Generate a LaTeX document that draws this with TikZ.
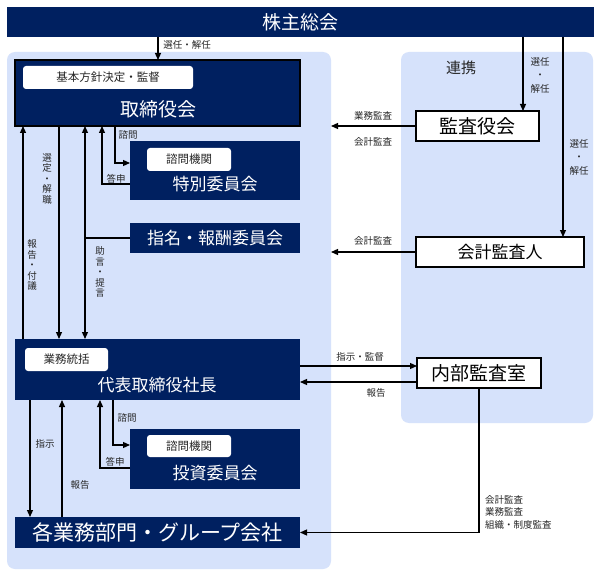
\documentclass[tikz,border=0pt]{standalone}
\usepackage{fontspec}
\setmainfont{Noto Sans CJK JP}
\usetikzlibrary{arrows.meta}
\definecolor{navy}{RGB}{0,32,96}
\definecolor{panelblue}{RGB}{214,226,251}
\tikzset{
  nw/.style={anchor=north west, outer sep=0pt},
  navybox/.style={nw, fill=navy, inner sep=0pt, text=white},
  whitebox/.style={nw, fill=white, draw=black, line width=1.2pt, inner sep=0pt},
  tag/.style={nw, fill=white, rounded corners=3pt, inner sep=0pt, text=black!85, font=\fontsize{11.5}{13}\selectfont},
  panel/.style={nw, fill=panelblue, rounded corners=8pt, inner sep=0pt},
  arr/.style={-{Triangle[length=7pt,width=6pt]}, line width=1.2pt},
  darr/.style={{Triangle[length=7pt,width=6pt]}-{Triangle[length=7pt,width=6pt]}, line width=1.2pt},
  plain/.style={line width=1.2pt},
  lbl/.style={font=\fontsize{9.5}{10.5}\selectfont, text=black!85, inner sep=0pt},
  vlbl/.style={lbl, align=center},
  big/.style={font=\fontsize{19}{22}\selectfont},
  mid/.style={font=\fontsize{17}{20}\selectfont},
  sz/.style 2 args={minimum width=#1pt, minimum height=#2pt},
}
\begin{document}
\begin{tikzpicture}[x=1pt,y=-1pt]
\useasboundingbox (0,0) rectangle (600,575);
\fill[white] (0,0) rectangle (600,575);

% panels
\node[panel, sz={324}{517}] (lp) at (7,52) {};
\node[panel, sz={192}{371}] (rp) at (401,52) {};
\node[font=\fontsize{15}{18}\selectfont, text=black!85] (renkei) at (461,68) {連携};

% top bar
\node[navybox, big, sz={587}{30}] (sh) at (7,7) {株主総会};

% board
\node[navybox, draw=black, line width=1.5pt, sz={285}{66}] (tb) at (15,60) {};
\node[tag, sz={170}{23}] (tbtag) at (23,66) {基本方針決定・監督};
\node[text=white, big] (tbtext) at (158,109) {取締役会};

% special committee
\node[navybox, sz={170}{59}] (tk) at (130,141) {};
\node[tag, sz={84}{23}] (tktag) at (147,148) {諮問機関};
\node[text=white, mid] (tktext) at (215,184) {特別委員会};

% nomination committee
\node[navybox, mid, sz={170}{30}] (sm) at (130,223) {指名・報酬委員会};

% president
\node[navybox, sz={285}{61}] (dc) at (15,339) {};
\node[tag, sz={83}{23}] (dctag) at (25,348) {業務統括};
\node[text=white, mid] (dctext) at (157,385) {代表取締役社長};

% investment committee
\node[navybox, sz={170}{60}] (ti) at (130,429) {};
\node[tag, sz={84}{22}] (titag) at (147,435) {諮問機関};
\node[text=white, mid] (titext) at (215,473) {投資委員会};

% business units
\node[navybox, font=\fontsize{21}{24}\selectfont, sz={285}{31}] (bu) at (15,517) {各業務部門・グループ会社};

% right boxes
\node[whitebox, big, sz={123}{30}] (ka) at (416,111) {監査役会};
\node[whitebox, mid, sz={168}{30}] (kk) at (416,237) {会計監査人};
\node[whitebox, big, sz={124}{30}] (na) at (417,358) {内部監査室};

% connectors from shareholders
\draw[arr] (sh.south -| 158,0) -- (tb.north -| 158,0);
\node[lbl] (l1) at (187,45) {選任・解任};
\draw[arr] (sh.south -| 523,0) -- (ka.north -| 523,0);
\node[vlbl] (l2) at (540,75) {選任\\[3pt]・\\[3pt]解任};
\draw[arr] (sh.south -| 563,0) -- (kk.north -| 563,0);
\node[vlbl] (l3) at (579,157) {選任\\[3pt]・\\[3pt]解任};

% audits to left panel
\draw[arr] (ka.west) -- (lp.east |- ka.west);
\node[lbl] (l4) at (373,116) {業務監査};
\node[lbl] (l5) at (373,142) {会計監査};
\draw[arr] (kk.west) -- (lp.east |- kk.west);
\node[lbl] (l6) at (373,241) {会計監査};

% board <-> president
\draw[arr] (dc.north -| 23,0) -- (tb.south -| 23,0);
\node[vlbl] (l7) at (32,265) {報\\告\\・\\付\\議};
\draw[arr] (tb.south -| 59,0) -- (dc.north -| 59,0);
\node[vlbl] (l8) at (47,179) {選\\定\\・\\解\\職};
\draw[darr] (tb.south -| 85,0) -- (dc.north -| 85,0);
\draw[plain] (sm.west) -- (sm.west -| 85,0);
\node[vlbl] (l9) at (100,272) {助\\言\\・\\提\\言};

% board <-> special committee
\draw[arr] (tb.south -| 115,0) |- (tk.west |- 0,163);
\node[lbl] (l10) at (128,135) {諮問};
\draw[arr] (tk.west |- 0,184) -| (tb.south -| 102,0);
\node[lbl] (l11) at (116,179) {答申};

% president <-> investment committee
\draw[arr] (dc.south -| 113,0) |- (ti.west |- 0,445);
\node[lbl] (l12) at (127,418) {諮問};
\draw[arr] (ti.west |- 0,468) -| (dc.south -| 100,0);
\node[lbl] (l13) at (115,462) {答申};

% president <-> business units
\draw[arr] (dc.south -| 30,0) -- (bu.north -| 30,0);
\node[lbl] (l14) at (45,444) {指示};
\draw[arr] (bu.north -| 62,0) -- (dc.south -| 62,0);
\node[lbl] (l15) at (80,485) {報告};

% president <-> internal audit
\draw[arr] (dc.east |- 0,366) -- (na.west |- 0,366);
\node[lbl] (l16) at (360,357) {指示・監督};
\draw[arr] (na.west |- 0,382) -- (dc.east |- 0,382);
\node[lbl] (l17) at (376,393) {報告};

% internal audit -> business units
\draw[arr] (na.south) |- (bu.east);
\node[lbl, anchor=west, align=left] (l18) at (485,512) {会計監査\\[2pt]業務監査\\[2pt]組織・制度監査};
\end{tikzpicture}
\end{document}
